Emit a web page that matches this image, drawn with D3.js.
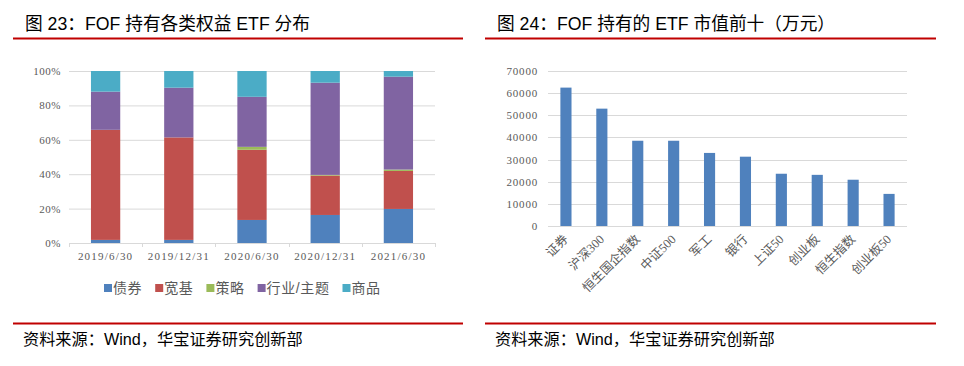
<!DOCTYPE html>
<html>
<head>
<meta charset="utf-8">
<script src="https://cdn.jsdelivr.net/npm/d3@7"></script>
<style>
  body { margin: 0; background: #fff; }
  svg { display: block; }
</style>
</head>
<body>
<div id="chart"></div>
<script>
// data for left chart (percent of holdings)
var dates = ["2019/6/30", "2019/12/31", "2020/6/30", "2020/12/31", "2021/6/30"];
var seriesNames = ["债券", "宽基", "策略", "行业/主题", "商品"];
var bond = [1.8, 1.8, 13.4, 16.3, 19.8];
var broad = [64.0, 59.6, 40.8, 22.9, 22.1];
var strategy = [0, 0, 1.7, 0.4, 0.8];
var industry = [22.2, 28.9, 29.1, 53.6, 54.0];
var commodity = [12.0, 9.7, 15.0, 6.8, 3.3];
var pctTicks = [0, 20, 40, 60, 80, 100];

// data for right chart (万元)
var etfNames = ["证券", "沪深300", "恒生国企指数", "中证500", "军工", "银行", "上证50", "创业板", "恒生指数", "创业板50"];
var etfValues = [62500, 53000, 38500, 38500, 33000, 31300, 23600, 23100, 20900, 14500];
var valueTicks = [0, 10000, 20000, 30000, 40000, 50000, 60000, 70000];

var colors = ["#4f81bd", "#c0504d", "#9bbb59", "#8064a2", "#4bacc6"];
var tickFont = "'Liberation Serif', 'Noto Sans CJK SC', serif";
var cjkFont = "'Liberation Sans', 'Noto Sans CJK SC', sans-serif";

var svg = d3.select("#chart")
  .append("svg")
    .attr("width", 964)
    .attr("height", 366);

// titles, red rules and source notes
function frame(x0, x1, textX, title) {
  svg.append("text")
      .attr("x", textX)
      .attr("y", 30)
      .style("font-family", cjkFont)
      .style("font-size", "17.7px")
      .style("fill", "#000")
      .text(title);
  svg.append("line")
      .attr("x1", x0).attr("x2", x1)
      .attr("y1", 38.5).attr("y2", 38.5)
      .style("stroke", "#c00000")
      .style("stroke-width", 2);
  svg.append("line")
      .attr("x1", x0).attr("x2", x1)
      .attr("y1", 323.5).attr("y2", 323.5)
      .style("stroke", "#c00000")
      .style("stroke-width", 2);
  svg.append("text")
      .attr("x", textX - 2)
      .attr("y", 345)
      .style("font-family", cjkFont)
      .style("font-size", "16.2px")
      .style("fill", "#000")
      .text("资料来源：Wind，华宝证券研究创新部");
}
frame(13, 463, 25, "图 23：FOF 持有各类权益 ETF 分布");
frame(485, 936, 497, "图 24：FOF 持有的 ETF 市值前十（万元）");

// ---------- left: stacked percent bars ----------
var table = dates.map(function(d, i) {
  return {date: d, "债券": bond[i], "宽基": broad[i], "策略": strategy[i], "行业/主题": industry[i], "商品": commodity[i]};
});
var stacked = d3.stack().keys(seriesNames)(table);

var x1 = d3.scaleBand()
    .domain(dates)
    .range([69, 435])
    .paddingInner(0.6)
    .paddingOuter(0.3);
var y1 = d3.scaleLinear()
    .domain([0, 100])
    .range([243, 71]);

var left = svg.append("g");

// gridlines
left.selectAll(".grid")
    .data(pctTicks.slice(1))
    .enter()
    .append("line")
      .attr("x1", 69).attr("x2", 435)
      .attr("y1", function(d) { return y1(d) + 0.5; })
      .attr("y2", function(d) { return y1(d) + 0.5; })
      .style("stroke", "#d9d9d9");

left.selectAll(".layer")
    .data(stacked)
    .enter()
    .append("g")
      .style("fill", function(d, i) { return colors[i]; })
    .selectAll("rect")
    .data(function(d) { return d; })
    .enter()
    .append("rect")
      .attr("x", function(d) { return x1(d.data.date); })
      .attr("y", function(d) { return y1(d[1]); })
      .attr("width", x1.bandwidth())
      .attr("height", function(d) { return y1(d[0]) - y1(d[1]); });

// y axis labels
var yAxisL = left.append("g")
    .attr("transform", "translate(61,0)")
    .call(d3.axisLeft(y1).tickValues(pctTicks).tickFormat(function(d) { return d + "%"; }).tickSize(0).tickPadding(0));
yAxisL.select(".domain").remove();
yAxisL.selectAll(".tick text")
    .style("font-family", tickFont)
    .style("font-size", "11px")
    .style("letter-spacing", "0.5px")
    .style("fill", "#595959");

// x axis with boundary ticks
left.append("line")
    .attr("x1", 69).attr("x2", 435)
    .attr("y1", 243.5).attr("y2", 243.5)
    .style("stroke", "#d9d9d9");
left.selectAll(".xt")
    .data(d3.range(dates.length + 1))
    .enter()
    .append("line")
      .attr("x1", function(i) { return Math.round(69 + i * x1.step()) + 0.5; })
      .attr("x2", function(i) { return Math.round(69 + i * x1.step()) + 0.5; })
      .attr("y1", 243).attr("y2", 247)
      .style("stroke", "#d9d9d9");
left.selectAll(".xlab")
    .data(dates)
    .enter()
    .append("text")
      .attr("x", function(d) { return x1(d) + x1.bandwidth() / 2; })
      .attr("y", 260)
      .attr("text-anchor", "middle")
      .style("font-family", tickFont)
      .style("font-size", "11px")
      .style("letter-spacing", "1.2px")
      .style("fill", "#595959")
      .text(function(d) { return d; });

// legend
var legend = left.append("g");
var lx = 104;
seriesNames.forEach(function(name, i) {
  legend.append("rect")
      .attr("x", lx).attr("y", 284)
      .attr("width", 8).attr("height", 8)
      .style("fill", colors[i]);
  var t = legend.append("text")
      .attr("x", lx + 9)
      .attr("y", 293)
      .style("font-family", cjkFont)
      .style("font-size", "14px")
      .style("letter-spacing", "0.6px")
      .style("fill", "#595959")
      .text(name);
  lx += 9 + t.node().getComputedTextLength() + 13;
});

// ---------- right: top ten ETF values ----------
var x2 = d3.scaleBand()
    .domain(etfNames)
    .range([548, 907])
    .paddingInner(0.69)
    .paddingOuter(0.345);
var y2 = d3.scaleLinear()
    .domain([0, 70000])
    .range([226, 71]);

var right = svg.append("g");

right.selectAll(".grid")
    .data(valueTicks)
    .enter()
    .append("line")
      .attr("x1", 548).attr("x2", 907)
      .attr("y1", function(d) { return Math.round(y2(d)) + 0.5; })
      .attr("y2", function(d) { return Math.round(y2(d)) + 0.5; })
      .style("stroke", "#d9d9d9");

right.selectAll("rect")
    .data(etfValues)
    .enter()
    .append("rect")
      .attr("x", function(d, i) { return x2(etfNames[i]); })
      .attr("y", function(d) { return y2(d); })
      .attr("width", x2.bandwidth())
      .attr("height", function(d) { return y2(0) - y2(d); })
      .style("fill", colors[0]);

var yAxisR = right.append("g")
    .attr("transform", "translate(538,0)")
    .call(d3.axisLeft(y2).tickValues(valueTicks).tickSize(0).tickPadding(0).tickFormat(d3.format("d")));
yAxisR.select(".domain").remove();
yAxisR.selectAll(".tick text")
    .style("font-family", tickFont)
    .style("font-size", "11px")
    .style("letter-spacing", "0.8px")
    .style("fill", "#595959");

right.selectAll(".xlab")
    .data(etfNames)
    .enter()
    .append("text")
      .attr("transform", function(d) {
        return "translate(" + (x2(d) + x2.bandwidth() / 2 + 3) + ",240) rotate(-45)";
      })
      .attr("text-anchor", "end")
      .style("font-family", tickFont)
      .style("font-size", "12.5px")
      .style("fill", "#595959")
      .text(function(d) { return d; });
</script>
</body>
</html>
